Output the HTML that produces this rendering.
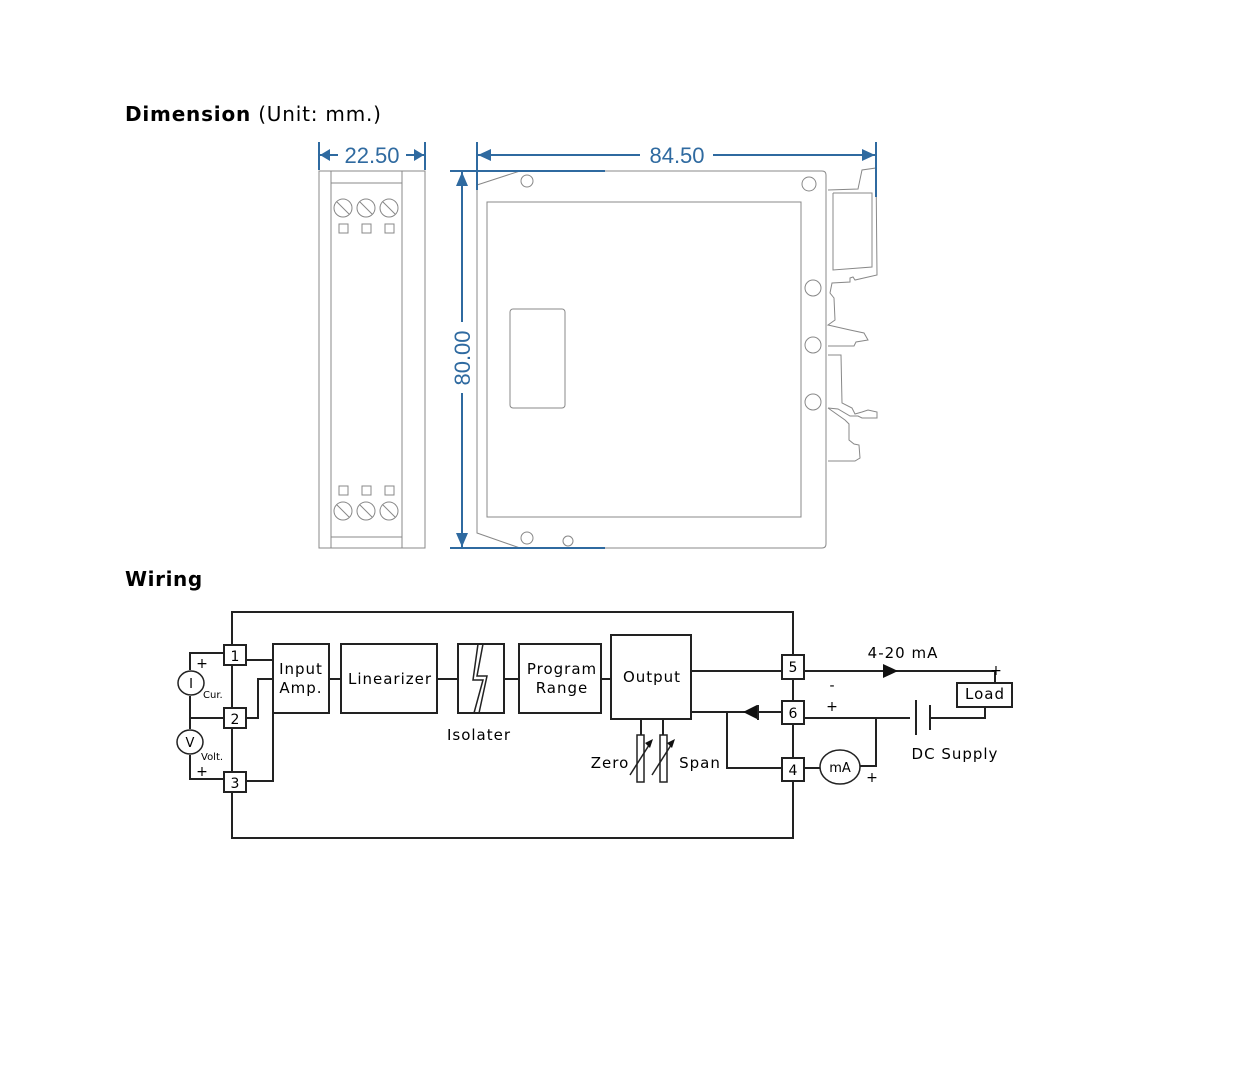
<!DOCTYPE html>
<html><head><meta charset="utf-8"><style>
html,body{margin:0;padding:0;background:#fff;width:1236px;height:1085px;overflow:hidden}
svg{display:block}
.t{font-family:"DejaVu Sans","Liberation Sans",sans-serif;fill:#000}
</style></head><body>
<svg width="1236" height="1085" viewBox="0 0 1236 1085" xmlns="http://www.w3.org/2000/svg">
<text x="125" y="121" class="t" font-size="20" letter-spacing="0.8"><tspan font-weight="bold">Dimension</tspan> (Unit: mm.)</text>
<text x="125" y="586" class="t" font-size="20" font-weight="bold" letter-spacing="0.6">Wiring</text>

<!-- left module -->
<g fill="none" stroke="#888" stroke-width="1">
<rect x="319" y="171" width="106" height="377"/>
<line x1="331" y1="171" x2="331" y2="548"/>
<line x1="402" y1="171" x2="402" y2="548"/>
<line x1="331" y1="183" x2="402" y2="183"/>
<line x1="331" y1="537" x2="402" y2="537"/>
<g>
<circle cx="343" cy="208" r="9"/><circle cx="366" cy="208" r="9"/><circle cx="389" cy="208" r="9"/>
<line x1="337" y1="202" x2="349" y2="214"/><line x1="360" y1="202" x2="372" y2="214"/><line x1="383" y1="202" x2="395" y2="214"/>
<rect x="339" y="224" width="9" height="9"/><rect x="362" y="224" width="9" height="9"/><rect x="385" y="224" width="9" height="9"/>
<rect x="339" y="486" width="9" height="9"/><rect x="362" y="486" width="9" height="9"/><rect x="385" y="486" width="9" height="9"/>
<circle cx="343" cy="511" r="9"/><circle cx="366" cy="511" r="9"/><circle cx="389" cy="511" r="9"/>
<line x1="337" y1="505" x2="349" y2="517"/><line x1="360" y1="505" x2="372" y2="517"/><line x1="383" y1="505" x2="395" y2="517"/>
</g>
<!-- right module -->
<path d="M477 185 L520 171 L822 171 Q826 171 826 175 L826 544 Q826 548 822 548 L520 548 L477 533 Z"/>
<rect x="487" y="202" width="314" height="315"/>
<rect x="510" y="309" width="55" height="99" rx="3"/>
<circle cx="527" cy="181" r="6"/><circle cx="809" cy="184" r="7"/>
<circle cx="813" cy="288" r="8"/><circle cx="813" cy="345" r="8"/><circle cx="813" cy="402" r="8"/>
<circle cx="527" cy="538" r="6"/><circle cx="568" cy="541" r="5"/>
<polyline points="828,190 858,189 862,170 876,168 877,275 855,280 853,277 850,278 850,282 832,283 830,293 834,298 835,320 828,325 850,330 864,333 868,340 856,342 854,346 828,346"/>
<polyline points="833,193 872,193 872,267 833,270 833,193"/>
<polyline points="828,355 841,355 842,403 852,408 855,414 862,412 868,410 877,412 877,418 862,418 858,416 850,416 838,409 828,408"/>
<polyline points="828,408 845,420 849,424 849,440 854,444 859,445 860,458 855,461 828,461"/>
</g>

<!-- dimension lines -->
<g stroke="#2f6aa0" stroke-width="2" fill="#2f6aa0">
<line x1="319" y1="142" x2="319" y2="170"/><line x1="425" y1="142" x2="425" y2="170"/>
<line x1="320" y1="155" x2="338" y2="155"/><line x1="406" y1="155" x2="424" y2="155"/>
<polygon points="320,155 330,149 330,161" stroke="none"/><polygon points="424,155 414,149 414,161" stroke="none"/>
<line x1="477" y1="142" x2="477" y2="190"/><line x1="876" y1="142" x2="876" y2="197"/>
<line x1="478" y1="155" x2="640" y2="155"/><line x1="713" y1="155" x2="875" y2="155"/>
<polygon points="478,155 491,149 491,161" stroke="none"/><polygon points="875,155 862,149 862,161" stroke="none"/>
<line x1="450" y1="171" x2="605" y2="171"/><line x1="450" y1="548" x2="605" y2="548"/>
<line x1="462" y1="172" x2="462" y2="322"/><line x1="462" y1="393" x2="462" y2="547"/>
<polygon points="462,172 456,186 468,186" stroke="none"/><polygon points="462,547 456,533 468,533" stroke="none"/>
</g>
<g font-family="Liberation Sans, sans-serif" font-size="22" fill="#2f6aa0" text-anchor="middle">
<text x="372" y="163">22.50</text>
<text x="677" y="163">84.50</text>
<text x="470" y="358" transform="rotate(-90 470 358)">80.00</text>
</g>

<!-- wiring -->
<g fill="none" stroke="#222" stroke-width="2">
<polyline points="232,645 232,612 793,612 793,655"/>
<polyline points="232,792 232,838 793,838 793,781"/>
<line x1="232" y1="665" x2="232" y2="708"/><line x1="232" y1="728" x2="232" y2="772"/>
<line x1="793" y1="679" x2="793" y2="701"/><line x1="793" y1="724" x2="793" y2="758"/>
<rect x="224" y="645" width="22" height="20" fill="#fff"/>
<rect x="224" y="708" width="22" height="20" fill="#fff"/>
<rect x="224" y="772" width="22" height="20" fill="#fff"/>
<rect x="782" y="655" width="22" height="24" fill="#fff"/>
<rect x="782" y="701" width="22" height="23" fill="#fff"/>
<rect x="782" y="758" width="22" height="23" fill="#fff"/>
<rect x="273" y="644" width="56" height="69"/>
<rect x="341" y="644" width="96" height="69"/>
<rect x="458" y="644" width="46" height="69"/>
<rect x="519" y="644" width="82" height="69"/>
<rect x="611" y="635" width="80" height="84"/>
<polyline points="478,644 473,680 483,680 474,713" stroke-width="1.5"/>
<polyline points="483,644 477,676 487,676 479,713" stroke-width="1.5"/>
<line x1="246" y1="660" x2="273" y2="660"/>
<polyline points="246,718 258,718 258,679 273,679"/>
<polyline points="246,781 273,781 273,713"/>
<line x1="329" y1="679" x2="341" y2="679"/><line x1="437" y1="679" x2="458" y2="679"/>
<line x1="504" y1="679" x2="519" y2="679"/><line x1="601" y1="679" x2="611" y2="679"/>
<polyline points="224,653 190,653 190,670"/>
<line x1="190" y1="696" x2="190" y2="729"/>
<line x1="190" y1="718" x2="224" y2="718"/>
<polyline points="190,755 190,779 224,779"/>
<ellipse cx="191" cy="683" rx="13" ry="12" stroke-width="1.5"/>
<ellipse cx="190" cy="742" rx="13" ry="12" stroke-width="1.5"/>
<line x1="691" y1="671" x2="782" y2="671"/>
<polyline points="804,671 995,671 995,683"/>
<rect x="957" y="683" width="55" height="24"/>
<line x1="691" y1="712" x2="782" y2="712"/>
<polyline points="727,712 727,768 782,768"/>
<polyline points="804,718 910,718"/>
<line x1="916" y1="700" x2="916" y2="735"/><line x1="930" y1="705" x2="930" y2="730"/>
<polyline points="930,718 985,718 985,707"/>
<polyline points="876,718 876,766 860,766"/>
<line x1="804" y1="768" x2="820" y2="768"/>
<ellipse cx="840" cy="767" rx="20" ry="17" stroke-width="1.5"/>
<line x1="641" y1="719" x2="641" y2="735"/><line x1="663" y1="719" x2="663" y2="735"/>
<rect x="637" y="735" width="7" height="47" stroke-width="1.5"/>
<rect x="660" y="735" width="7" height="47" stroke-width="1.5"/>
<line x1="630" y1="775" x2="651" y2="742" stroke-width="1.5"/>
<line x1="652" y1="775" x2="673" y2="742" stroke-width="1.5"/>
<line x1="758" y1="705" x2="758" y2="720"/>
</g>
<g fill="#111">
<polygon points="883,664 883,678 898,671"/>
<polygon points="743,712 757,705 757,719"/>
<polygon points="653,739 645,743 650,748"/>
<polygon points="675,739 667,743 672,748"/>
</g>
<g class="t" font-size="14">
<text x="235" y="661" text-anchor="middle">1</text>
<text x="235" y="724" text-anchor="middle">2</text>
<text x="235" y="788" text-anchor="middle">3</text>
<text x="793" y="672" text-anchor="middle">5</text>
<text x="793" y="718" text-anchor="middle">6</text>
<text x="793" y="775" text-anchor="middle">4</text>
<g letter-spacing="1">
<text x="301" y="674" text-anchor="middle" font-size="15">Input</text>
<text x="301" y="693" text-anchor="middle" font-size="15">Amp.</text>
<text x="390" y="684" text-anchor="middle" font-size="15">Linearizer</text>
<text x="562" y="674" text-anchor="middle" font-size="15">Program</text>
<text x="562" y="693" text-anchor="middle" font-size="15">Range</text>
<text x="652" y="682" text-anchor="middle" font-size="15">Output</text>
<text x="479" y="740" text-anchor="middle" font-size="15">Isolater</text>
<text x="610" y="768" text-anchor="middle" font-size="15">Zero</text>
<text x="700" y="768" text-anchor="middle" font-size="15">Span</text>
<text x="903" y="658" text-anchor="middle" font-size="15">4-20 mA</text>
<text x="985" y="699" text-anchor="middle" font-size="15">Load</text>
<text x="955" y="759" text-anchor="middle" font-size="15">DC Supply</text>
</g>
<text x="840" y="772" text-anchor="middle" font-size="13">mA</text>
<text x="191" y="688" text-anchor="middle" font-size="13">I</text>
<text x="190" y="747" text-anchor="middle" font-size="13">V</text>
<text x="203" y="698" font-size="10">Cur.</text>
<text x="201" y="760" font-size="10">Volt.</text>
<text x="202" y="668" text-anchor="middle">+</text>
<text x="202" y="776" text-anchor="middle">+</text>
<text x="996" y="675" text-anchor="middle">+</text>
<text x="832" y="690" text-anchor="middle">-</text>
<text x="832" y="711" text-anchor="middle">+</text>
<text x="872" y="782" text-anchor="middle">+</text>
</g>
</svg>
</body></html>
